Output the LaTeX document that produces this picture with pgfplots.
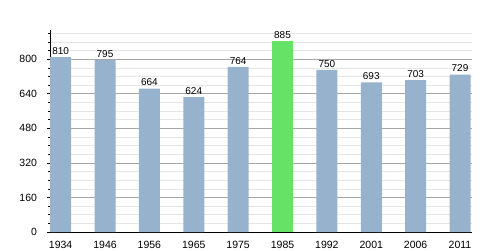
\documentclass[border=0pt]{standalone}
\usepackage{pgfplots}
\pgfplotsset{compat=1.18}
\usepackage{fontspec}
\setmainfont{Liberation Sans}
\definecolor{barblue}{RGB}{151,178,204}
\definecolor{bargreen}{RGB}{102,226,102}
\begin{document}
\begin{tikzpicture}
\fontsize{10}{12}\selectfont
\begin{axis}[
  at={(0pt,0pt)}, anchor=south west,
  scale only axis, width=422pt, height=202pt,
  xmin=-0.24, xmax=9.27, ymin=0, ymax=935,
  axis x line=bottom, axis y line=left,
  axis line style={-, black, line width=0.8pt},
  xtick={0,1,2,3,4,5,6,7,8,9},
  xticklabels={1934,1946,1956,1965,1975,1985,1992,2001,2006,2011},
  x tick style={draw=none},
  ytick={0,160,320,480,640,800},
  minor ytick={40,80,120,200,240,280,360,400,440,520,560,600,680,720,760,840,880,920},
  ymajorgrids, yminorgrids,
  major grid style={gray!70, line width=0.5pt},
  minor grid style={gray!20, line width=0.5pt},
  y tick style={black, line width=0.5pt},
  major tick length=5pt, minor tick length=3pt,
  tick align=center,
  yticklabel style={xshift=-7pt},
  xticklabel style={yshift=-1pt},
  ybar, bar width=21pt, bar shift=0pt,
  nodes near coords,
  nodes near coords style={font=\fontsize{10}{12}\selectfont, yshift=-1pt},
  tick label style={font=\fontsize{10.5}{12}\selectfont},
  /pgf/number format/assume math mode=true,
  clip=false,
]
\addplot[fill=barblue, draw=none] coordinates {
 (0,810) (1,795) (2,664) (3,624) (4,764) (6,750) (7,693) (8,703) (9,729)};
\addplot[fill=bargreen, draw=none] coordinates {(5,885)};
\end{axis}
\pgfresetboundingbox
\path (-50pt,-18pt) rectangle (450pt,232pt);
\end{tikzpicture}
\end{document}
